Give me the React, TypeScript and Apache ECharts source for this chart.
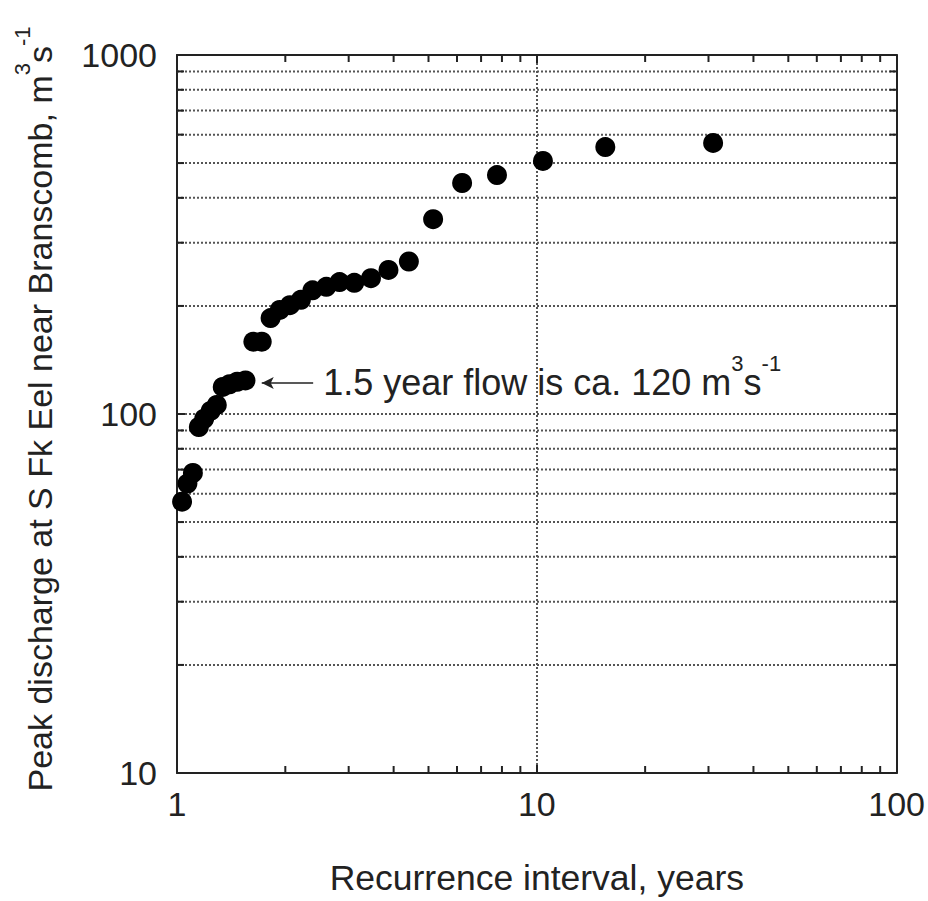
import React, { useEffect, useRef } from 'react';
import * as echarts from 'echarts';

// Recurrence interval (years) and peak discharge (m3/s)
const recurrenceYears = [30.9, 15.5, 10.4, 7.75, 6.2, 5.15, 4.41, 3.87, 3.46, 3.11, 2.83, 2.6, 2.38, 2.21, 2.06, 1.93, 1.82, 1.72, 1.63, 1.55, 1.47, 1.4, 1.34, 1.29, 1.24, 1.19, 1.15, 1.107, 1.069, 1.033];
const peakDischarge = [569, 554, 507, 463, 440, 349, 266, 252, 239, 232, 233, 226, 221, 208, 201, 195, 185, 159, 159, 124, 123, 121, 119, 106, 102, 97, 92, 68.5, 64, 57];

const xMinorTicks = [2, 3, 4, 5, 6, 7, 8, 9, 20, 30, 40, 50, 60, 70, 80, 90];
const yMinorTicks = [20, 30, 40, 50, 60, 70, 80, 90, 200, 300, 400, 500, 600, 700, 800, 900];

const xTitle = 'Recurrence interval, years';
const yTitle = 'Peak discharge at S Fk Eel near Branscomb, m{sup|3}s{sup|-1}';
const noteText = '1.5 year flow is ca. 120 m{sup|3}s{sup|-1}';
const arrowTail = [2.39, 122];
const arrowHead = [1.72, 122];

export default function App() {
  const ref = useRef<HTMLDivElement>(null);
  useEffect(() => {
    const chart = echarts.init(ref.current!, null, { renderer: 'svg' });
    const font = "'Liberation Sans', Arial, Helvetica, sans-serif";
    const textColor = '#222';
    const axisColor = '#222';
    const gridColor = '#555';
    const dotted = { color: gridColor, width: 2, type: [2, 2] as any };
    const sup = { fontSize: 22, lineHeight: 20, verticalAlign: 'top', fontFamily: font, color: textColor };

    const fmt = (v: number) => String(Math.round(v));

    const option: any = {
      animation: false,
      backgroundColor: '#fff',
      grid: { left: 177, right: 31, top: 55, bottom: 128, containLabel: false },
      xAxis: [
        {
          type: 'log', logBase: 10, min: 1, max: 100, position: 'bottom',
          axisLine: { show: true, lineStyle: { color: axisColor, width: 2 } },
          axisTick: { show: true, inside: true, length: 8, lineStyle: { color: axisColor, width: 2 } },
          axisLabel: { show: true, fontSize: 34, color: textColor, fontFamily: font, margin: 14, formatter: fmt },
          splitLine: { show: true, lineStyle: dotted },
          minorTick: { show: false },
          name: xTitle, nameLocation: 'middle', nameGap: 87,
          nameTextStyle: { fontSize: 35.5, color: textColor, fontFamily: font },
        },
        {
          type: 'log', logBase: 10, min: 1, max: 100, position: 'top',
          axisLine: { show: true, lineStyle: { color: axisColor, width: 2 } },
          axisTick: { show: true, inside: true, length: 8, lineStyle: { color: axisColor, width: 2 } },
          axisLabel: { show: false },
          splitLine: { show: false },
        },
      ],
      yAxis: [
        {
          type: 'log', logBase: 10, min: 10, max: 1000, position: 'left',
          axisLine: { show: true, lineStyle: { color: axisColor, width: 2 } },
          axisTick: { show: true, inside: true, length: 8, lineStyle: { color: axisColor, width: 2 } },
          axisLabel: { show: true, fontSize: 34, color: textColor, fontFamily: font, margin: 20, formatter: fmt },
          splitLine: { show: true, lineStyle: dotted },
          name: yTitle, nameLocation: 'middle', nameGap: 108, nameRotate: 90,
          nameTextStyle: { fontSize: 34, lineHeight: 58, color: textColor, fontFamily: font, padding: [0, 0, 0, 10], rich: { sup } },
        },
        {
          type: 'log', logBase: 10, min: 10, max: 1000, position: 'right',
          axisLine: { show: true, lineStyle: { color: axisColor, width: 2 } },
          axisTick: { show: true, inside: true, length: 8, lineStyle: { color: axisColor, width: 2 } },
          axisLabel: { show: false },
          splitLine: { show: false },
        },
      ],
      series: [
        {
          type: 'custom', xAxisIndex: 0, yAxisIndex: 0, silent: true, z: 1, clip: false,
          data: yMinorTicks.map((v) => [1, v]),
          encode: { x: 0, y: 1 },
          renderItem: (params: any, api: any) => {
            const p = api.coord([api.value(0), api.value(1)]);
            const cs = params.coordSys;
            return {
              type: 'group',
              children: [
                { type: 'line', shape: { x1: cs.x, y1: p[1], x2: cs.x + cs.width, y2: p[1] }, style: { stroke: gridColor, lineWidth: 2, lineDash: [2, 2] } },
                { type: 'line', shape: { x1: cs.x, y1: p[1], x2: cs.x + 7, y2: p[1] }, style: { stroke: axisColor, lineWidth: 2 } },
                { type: 'line', shape: { x1: cs.x + cs.width - 7, y1: p[1], x2: cs.x + cs.width, y2: p[1] }, style: { stroke: axisColor, lineWidth: 2 } },
              ],
            };
          },
        },
        {
          type: 'custom', xAxisIndex: 0, yAxisIndex: 0, silent: true, z: 1, clip: false,
          data: xMinorTicks.map((v) => [v, 10]),
          encode: { x: 0, y: 1 },
          renderItem: (params: any, api: any) => {
            const p = api.coord([api.value(0), api.value(1)]);
            const cs = params.coordSys;
            return {
              type: 'group',
              children: [
                { type: 'line', shape: { x1: p[0], y1: cs.y + cs.height, x2: p[0], y2: cs.y + cs.height - 7 }, style: { stroke: axisColor, lineWidth: 2 } },
                { type: 'line', shape: { x1: p[0], y1: cs.y, x2: p[0], y2: cs.y + 7 }, style: { stroke: axisColor, lineWidth: 2 } },
              ],
            };
          },
        },
        {
          type: 'scatter', xAxisIndex: 0, yAxisIndex: 0, z: 5,
          symbol: 'circle', symbolSize: 20,
          itemStyle: { color: '#000', opacity: 1 },
          data: recurrenceYears.map((t, i) => [t, peakDischarge[i]]),
          markLine: {
            silent: true,
            symbol: ['none', 'arrow'],
            symbolSize: [9, 12],
            lineStyle: { color: axisColor, width: 1.5, type: 'solid', opacity: 1 },
            label: {
              show: true, position: 'start', distance: 10,
              formatter: noteText,
              fontSize: 36, lineHeight: 60, color: textColor, fontFamily: font,
              rich: { sup },
            },
            data: [[{ coord: arrowTail }, { coord: arrowHead }]],
          },
        },
      ],
    };
    chart.setOption(option);
    return () => chart.dispose();
  }, []);
  return <div ref={ref} style={{ position: 'absolute', left: 0, top: 0, width: 928, height: 901 }} />;
}
